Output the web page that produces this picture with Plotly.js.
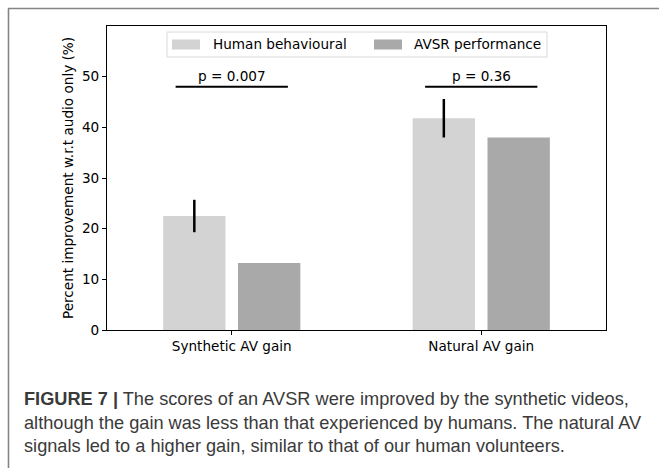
<!DOCTYPE html>
<html>
<head>
<meta charset="utf-8">
<script src="https://cdn.plot.ly/plotly-3.0.1.min.js"></script>
<style>
  html, body { margin: 0; padding: 0; background: #fff; }
  #chart { width: 659px; height: 471px; }
</style>
</head>
<body>
<div id="chart"></div>
<script>
// ---- data ----
const categories = ["Synthetic AV gain", "Natural AV gain"];
const categoryPos = [0, 1];
const humanValues = [22.5, 41.8];
const humanErrors = [3.2, 3.8];
const avsrValues = [13.2, 38.0];
const seriesNames = ["Human behavioural", "AVSR performance"];
const pLabels = ["p = 0.007", "p = 0.36"];
const pLineLevel = [48, 48];
const pLineHalfWidth = 0.225;
const captionLines = [
  "<b>FIGURE 7 |</b> The scores of an AVSR were improved by the synthetic videos,",
  "although the gain was less than that experienced by humans. The natural AV",
  "signals led to a higher gain, similar to that of our human volunteers."
];

// ---- geometry helpers (pixel -> paper) ----
const W = 659, H = 471;
const M = {l: 107, r: 53, t: 26, b: 141};
const PW = W - M.l - M.r, PH = H - M.t - M.b;
const px = x => (x - M.l) / PW;
const py = y => (H - M.b - y) / PH;

const FONT = "DejaVu Sans";
const FS = 13.6;
const humanColor = "#d3d3d3";
const avsrColor = "#a9a9a9";

const traces = [
  {
    type: "bar", name: seriesNames[0], x: categoryPos, y: humanValues,
    width: 0.25, offset: -0.275,
    marker: {color: humanColor, line: {width: 0}},
    error_y: {type: "data", array: humanErrors, visible: true, color: "#000", thickness: 2.5, width: 0},
    showlegend: false, hoverinfo: "skip"
  },
  {
    type: "bar", name: seriesNames[1], x: categoryPos, y: avsrValues,
    width: 0.25, offset: 0.025,
    marker: {color: avsrColor, line: {width: 0}},
    showlegend: false, hoverinfo: "skip"
  }
];
categoryPos.forEach((c, i) => {
  traces.push({
    type: "scatter", mode: "lines",
    x: [c - pLineHalfWidth, c + pLineHalfWidth],
    y: [pLineLevel[i], pLineLevel[i]],
    line: {color: "#000", width: 2},
    showlegend: false, hoverinfo: "skip"
  });
});

const annotations = categoryPos.map((c, i) => ({
  x: c, y: pLineLevel[i], xref: "x", yref: "y",
  text: pLabels[i], showarrow: false,
  xanchor: "center", yanchor: "bottom", yshift: 1,
  font: {family: FONT, size: FS, color: "#000"}
}));

// manual legend text
annotations.push({
  xref: "paper", yref: "paper", x: px(211), y: py(44.5),
  text: seriesNames[0], showarrow: false, xanchor: "left", yanchor: "middle",
  font: {family: FONT, size: FS, color: "#000"}
});
annotations.push({
  xref: "paper", yref: "paper", x: px(412), y: py(44.5),
  text: seriesNames[1], showarrow: false, xanchor: "left", yanchor: "middle",
  font: {family: FONT, size: FS, color: "#000"}
});

// caption
const capY = [399, 423, 446];
captionLines.forEach((t, i) => {
  annotations.push({
    xref: "paper", yref: "paper", x: px(22), y: py(capY[i]),
    text: t, showarrow: false, xanchor: "left", yanchor: "middle",
    font: {family: "Liberation Sans", size: 18.2, color: "#3a3a3a"}
  });
});

const shapes = [
  // outer frame
  {type: "line", xref: "paper", yref: "paper", x0: px(8), x1: px(660), y0: py(8.5), y1: py(8.5),
   line: {color: "#858585", width: 1.6}},
  {type: "line", xref: "paper", yref: "paper", x0: px(8.5), x1: px(8.5), y0: py(8.5), y1: py(468),
   line: {color: "#858585", width: 1.6}},
  // legend box
  {type: "rect", xref: "paper", yref: "paper", x0: px(167), x1: px(547), y0: py(32), y1: py(57),
   line: {color: "#d9d9d9", width: 1}, fillcolor: "rgba(255,255,255,0.8)", layer: "above"},
  {type: "rect", xref: "paper", yref: "paper", x0: px(172), x1: px(200), y0: py(39.5), y1: py(49.5),
   line: {width: 0}, fillcolor: humanColor, layer: "above"},
  {type: "rect", xref: "paper", yref: "paper", x0: px(374), x1: px(402), y0: py(39.5), y1: py(49.5),
   line: {width: 0}, fillcolor: avsrColor, layer: "above"}
];

const layout = {
  width: W, height: H,
  margin: M,
  paper_bgcolor: "#fff", plot_bgcolor: "#fff",
  showlegend: false,
  xaxis: {
    range: [-0.5, 1.5], tickvals: categoryPos, ticktext: categories,
    showgrid: false, zeroline: false,
    showline: true, linecolor: "#000", linewidth: 1, mirror: true,
    ticks: "outside", ticklen: 4, tickwidth: 1, tickcolor: "#000",
    tickfont: {family: FONT, size: FS, color: "#000"}
  },
  yaxis: {
    range: [0, 60], tickvals: [0, 10, 20, 30, 40, 50],
    showgrid: false, zeroline: false,
    showline: true, linecolor: "#000", linewidth: 1, mirror: true,
    ticks: "outside", ticklen: 4, tickwidth: 1, tickcolor: "#000",
    tickfont: {family: FONT, size: FS, color: "#000"},
    title: {text: "Percent improvement w.r.t audio only (%)", font: {family: FONT, size: FS, color: "#000"}, standoff: 5}
  },
  annotations: annotations,
  shapes: shapes
};

Plotly.newPlot("chart", traces, layout, {displayModeBar: false, staticPlot: true});
</script>
</body>
</html>
